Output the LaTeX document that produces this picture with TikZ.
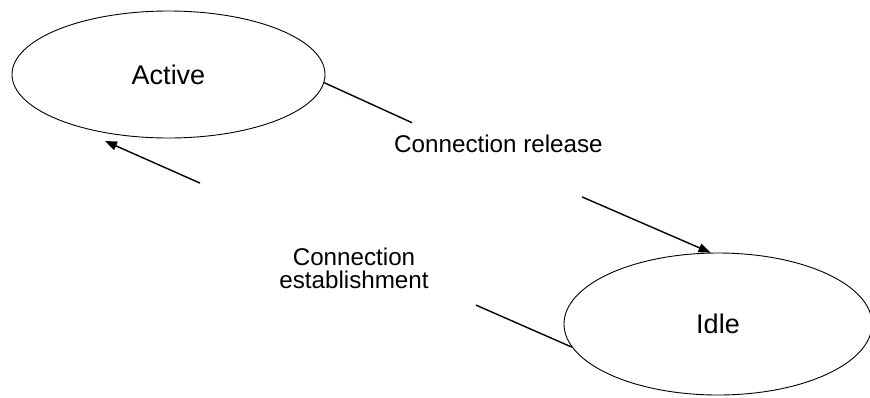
\documentclass[tikz,border=0pt]{standalone}
\usepackage{fontspec}
\setmainfont{Liberation Sans}
\usetikzlibrary{shapes.geometric,arrows.meta}
\begin{document}
\begin{tikzpicture}[x=1bp,y=-1bp,
  state/.style={draw=black, line width=0.9bp, ellipse, inner sep=0pt,
    font=\fontsize{27bp}{29bp}\selectfont},
  lbl/.style={inner sep=0pt, align=center, font=\fontsize{24.2bp}{22.5bp}\selectfont},
  conn/.style={draw=black, line width=1.4bp},
  tip/.style={-{Triangle[length=12bp,width=9bp]}}]
\useasboundingbox (0,0) rectangle (870,397);
\fill[white] (0,0) rectangle (870,397);
\node[state, minimum width=313bp, minimum height=127bp] (active) at (168.5,74.5) {Active};
\node[state, minimum width=308bp, minimum height=142bp] (idle) at (718,324) {Idle};
\node[lbl] (rel) at (498.5,144) {Connection release};
\node[lbl] (est) at (354,268.2) {Connection\\establishment};
\coordinate (g1a) at (412,122.7);
\coordinate (g1b) at (582,196.9);
\coordinate (g2a) at (476,305.1);
\coordinate (g2b) at (200,183.1);
\coordinate (t2) at (105,141);
\draw[conn] (active.-3.5) -- (g1a);
\draw[conn,tip] (g1b) -- (idle.96);
\draw[conn] (idle.189.3) -- (g2a);
\draw[conn,tip] (g2b) -- (t2);
\end{tikzpicture}
\end{document}
